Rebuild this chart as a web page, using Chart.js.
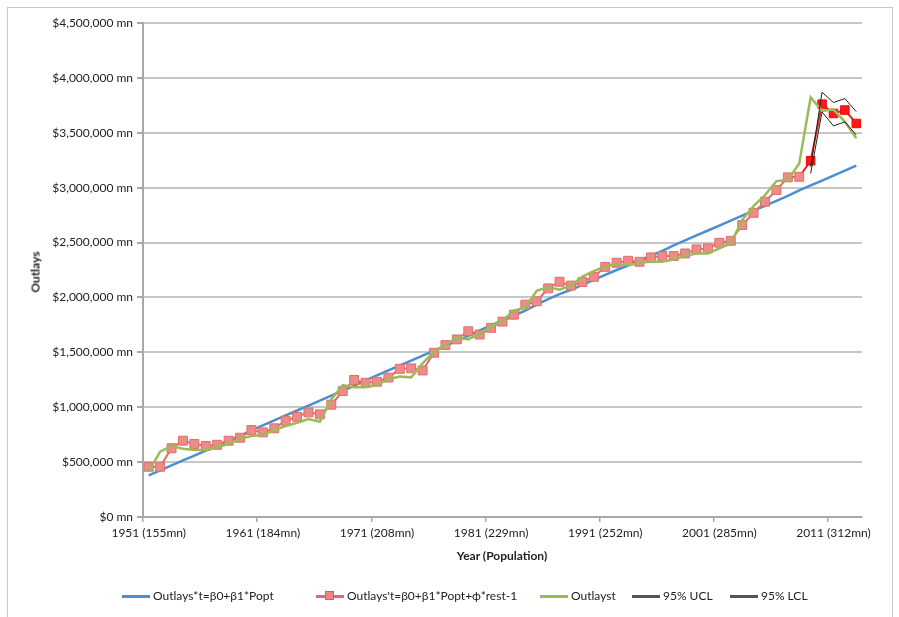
<!DOCTYPE html>
<html><head><meta charset="utf-8">
<script src="https://cdn.jsdelivr.net/npm/chart.js@4/dist/chart.umd.min.js"></script>
<style>
html,body{margin:0;padding:0;background:#fff;}
body{width:899px;height:617px;position:relative;overflow:hidden;font-family:Lato,"Liberation Sans",sans-serif;color:#222;}
#frame{position:absolute;left:7px;top:7px;width:884px;height:640px;border:1.5px solid #c8c8c8;}
#c{position:absolute;left:0;top:0;}
.ytitle{position:absolute;left:35px;top:272px;transform:translate(-50%,-50%) rotate(-90deg);font-weight:bold;font-size:12px;white-space:nowrap;}
.xtitle{position:absolute;left:502px;top:555px;transform:translate(-50%,-50%);font-weight:bold;font-size:12px;white-space:nowrap;}
.lg{position:absolute;top:588px;height:16px;line-height:16px;font-size:12px;white-space:nowrap;display:flex;align-items:center;}
.sw{position:relative;width:28px;height:16px;margin-right:3px;}
.sw .ln{position:absolute;left:0;right:0;top:7px;height:3px;}
.sw .mk{position:absolute;left:9px;top:3px;width:9px;height:9px;background:#ec8785;border:1px solid #d65f5c;box-sizing:border-box;}
</style></head>
<body>
<div id="frame"></div>
<canvas id="c" width="899" height="617"></canvas>
<div class="ytitle">Outlays</div>
<div class="xtitle">Year (Population)</div>
<div id="legend"></div>
<script>
// ---------- data ----------
const categories = ["1951 (155mn)","1952","1953","1954","1955","1956","1957","1958","1959","1960",
  "1961 (184mn)","1962","1963","1964","1965","1966","1967","1968","1969","1970",
  "1971 (208mn)","1972","1973","1974","1975","1976","1977","1978","1979","1980",
  "1981 (229mn)","1982","1983","1984","1985","1986","1987","1988","1989","1990",
  "1991 (252mn)","1992","1993","1994","1995","1996","1997","1998","1999","2000",
  "2001 (285mn)","2002","2003","2004","2005","2006","2007","2008","2009","2010",
  "2011 (312mn)","2012","2013"];

const outlaysStar = [380000,425000,470000,515000,560000,605000,650000,695000,740000,790000,
  835000,880000,925000,970000,1015000,1060000,1105000,1150000,1195000,1245000,
  1290000,1335000,1380000,1425000,1470000,1515000,1560000,1605000,1650000,1700000,
  1745000,1790000,1835000,1880000,1935000,1985000,2030000,2070000,2115000,2160000,
  2205000,2250000,2290000,2335000,2380000,2425000,2475000,2520000,2565000,2610000,
  2655000,2700000,2745000,2790000,2835000,2880000,2925000,2975000,3020000,3065000,
  3110000,3155000,3200000];

const outlaysPrime = [458000,458000,626000,695000,665000,647000,658000,695000,722000,792000,
  771000,808000,877000,913000,953000,935000,1023000,1147000,1248000,1223000,
  1232000,1270000,1350000,1354000,1335000,1496000,1566000,1618000,1692000,1662000,
  1723000,1780000,1843000,1935000,1965000,2083000,2143000,2108000,2140000,2188000,
  2279000,2316000,2334000,2325000,2365000,2377000,2377000,2401000,2438000,2447000,
  2498000,2516000,2659000,2771000,2872000,2978000,3094000,3099000,3245000,3761000,
  3676000,3707000,3585000];

const outlaysActual = [413000,595000,647000,622000,610000,610000,638000,665000,710000,738000,
  747000,792000,829000,859000,892000,868000,1070000,1202000,1181000,1181000,
  1202000,1255000,1280000,1272000,1400000,1505000,1566000,1637000,1618000,1673000,
  1734000,1788000,1879000,1910000,2060000,2095000,2070000,2110000,2190000,2240000,
  2285000,2300000,2295000,2315000,2325000,2325000,2345000,2380000,2400000,2401000,
  2447000,2492000,2705000,2832000,2932000,3060000,3069000,3221000,3822000,3700000,
  3713000,3600000,3449000];

const forecastStart = 58;
const ucl95 = [3190000,3870000,3775000,3812000,3692000];
const lcl95 = [3130000,3690000,3562000,3600000,3480000];

const yTicks = {min:0, max:4500000, step:500000};

const seriesNames = ["Outlays*t=β0+β1*Popt","Outlays't=β0+β1*Popt+ϕ*rest-1","Outlayst","95% UCL","95% LCL"];
const seriesColors = ["#4b8fd1","#df6b68","#9bbb59","#222222","#222222"];

// ---------- build ----------
const pad = Array(forecastStart).fill(null);
const uclData = pad.concat(ucl95);
const lclData = pad.concat(lcl95);
const isFc = i => i >= forecastStart;

const fontBase = {family:"Lato, 'Liberation Sans', sans-serif", size:12};

new Chart(document.getElementById('c'), {
  type:'line',
  data:{
    labels:categories,
    datasets:[
      {label:seriesNames[0], data:outlaysStar, borderColor:seriesColors[0], borderWidth:2.5, pointRadius:0, tension:0, order:5},
      {label:seriesNames[1], data:outlaysPrime, borderColor:seriesColors[1], borderWidth:2, tension:0, order:4,
        pointStyle:'rect',
        pointRadius: outlaysPrime.map((v,i)=> isFc(i)?6:6.3),
        pointBackgroundColor: outlaysPrime.map((v,i)=> isFc(i)?'#ff1a1a':'#ee8b89'),
        pointBorderColor: outlaysPrime.map((v,i)=> isFc(i)?'#ff0000':'#df6e6b'),
        pointBorderWidth:1,
        segment:{borderColor: ctx => ctx.p0DataIndex >= forecastStart-1 ? '#e82020' : seriesColors[1]}},
      {label:seriesNames[2], data:outlaysActual, borderColor:seriesColors[2], borderWidth:2.5, pointRadius:0, tension:0, order:3},
      {label:seriesNames[3], data:uclData, borderColor:seriesColors[3], borderWidth:1, pointRadius:0, tension:0, order:2, spanGaps:false},
      {label:seriesNames[4], data:lclData, borderColor:seriesColors[4], borderWidth:1, pointRadius:0, tension:0, order:1, spanGaps:false}
    ]
  },
  options:{
    responsive:false, animation:false, devicePixelRatio:1,
    layout:{padding:{left:0, top:23, right:37, bottom:70}},
    plugins:{legend:{display:false}, tooltip:{enabled:false}, title:{display:false}},
    scales:{
      x:{
        type:'category', offset:true,
        afterFit: s => { s.height = 30; },
        grid:{offset:true, drawOnChartArea:false, drawTicks:true, tickLength:5, lineWidth:1.5,
              color: ctx => (ctx.index % 10 === 0) ? '#a8a8a8' : 'rgba(0,0,0,0)'},
        border:{color:'#a8a8a8', width:2},
        ticks:{autoSkip:false, maxRotation:0, minRotation:0, padding:4, color:'#222', font:fontBase,
               callback: function(v, i){ return i % 10 === 0 ? categories[i] : ''; }}
      },
      y:{
        min:yTicks.min, max:yTicks.max,
        afterFit: s => { s.width = 143; },
        grid:{color:'#c6c6c6', lineWidth:2, tickLength:6, tickColor:'#a8a8a8'},
        border:{color:'#a8a8a8', width:2},
        ticks:{stepSize:yTicks.step, padding:4, color:'#222', font:fontBase,
               callback: v => '$' + Number(v).toLocaleString('en-US') + ' mn'}
      }
    }
  }
});

// legend (HTML)
const legendLefts = [122,316,540,632,730];
const lg = document.getElementById('legend');
seriesNames.forEach((name,k)=>{
  const d = document.createElement('div'); d.className='lg'; d.style.left = legendLefts[k]+'px';
  const sw = document.createElement('div'); sw.className='sw';
  const ln = document.createElement('div'); ln.className='ln'; ln.style.background = k>=3 ? '#555' : seriesColors[k];
  sw.appendChild(ln);
  if(k===1){ const mk=document.createElement('div'); mk.className='mk'; sw.appendChild(mk); }
  d.appendChild(sw);
  const t = document.createElement('span'); t.textContent = name; d.appendChild(t);
  lg.appendChild(d);
});
</script>
</body></html>
